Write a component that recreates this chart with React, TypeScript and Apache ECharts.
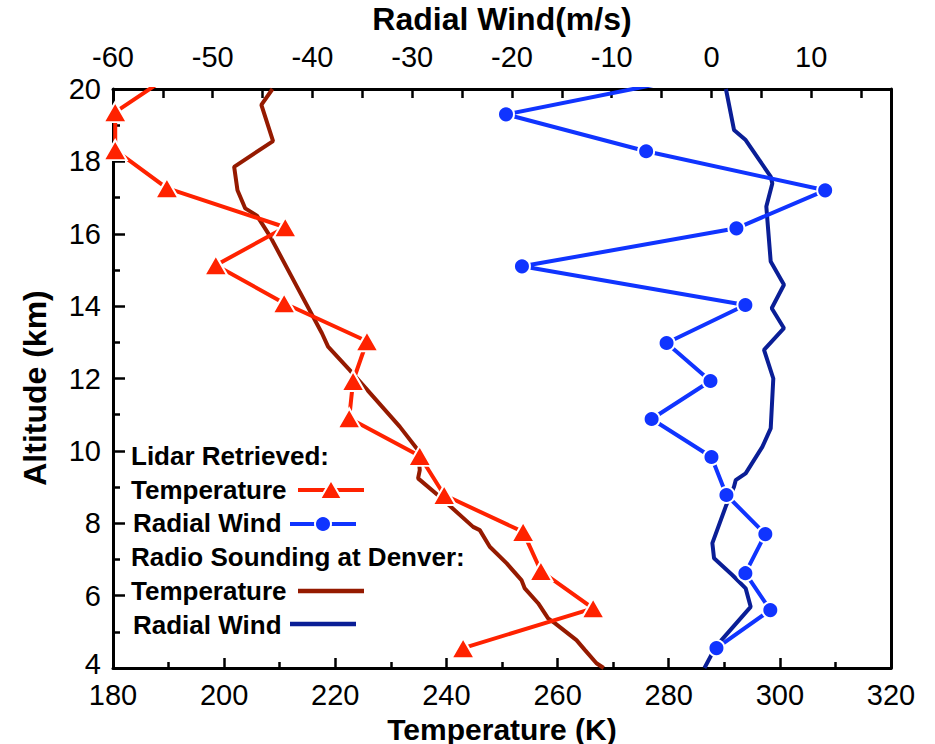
import React, { useEffect, useRef } from "react";
import * as echarts from "echarts";

// Lidar retrieved temperature (K) vs altitude (km)
const lidarTempK = [243, 266.4, 257, 253.8, 239.6, 235.2, 222.5, 223.2, 225.7, 210.8, 198.5, 211, 189.7, 180.4, 180.4, 190.5];
const lidarTempAlt = [4.55, 5.65, 6.68, 7.76, 8.78, 9.86, 10.9, 11.93, 13.03, 14.08, 15.13, 16.18, 17.26, 18.31, 19.36, 20.4];

// Lidar retrieved radial wind (m/s) vs altitude (km)
const lidarWind = [0.5, 5.9, 3.4, 5.4, 1.5, 0, -6, -0.1, -4.5, 3.4, -19, 2.5, 11.4, -6.55, -20.6, -1.5];
const lidarWindAlt = [4.55, 5.6, 6.62, 7.7, 8.78, 9.83, 10.88, 11.93, 12.98, 14.03, 15.1, 16.15, 17.2, 18.28, 19.3, 20.35];

// Radio sounding at Denver: temperature (K)
const sondeTempK = [268.3, 267.0, 264.9, 263.4, 259.5, 258.3, 256.5, 254.1, 253.5, 250.85, 247.8, 246.0, 244.8, 238.8, 234.9, 235.2, 234.9, 231.6, 222.6, 218.7, 217.6, 213.1, 208.3, 205.9, 203.8, 202.4, 201.8, 208.8, 206.7, 208.7];
const sondeTempAlt = [4.0, 4.13, 4.5, 4.77, 5.24, 5.37, 5.79, 6.2, 6.43, 6.89, 7.35, 7.81, 7.9, 8.73, 9.24, 9.47, 10.02, 10.67, 12.23, 12.88, 13.25, 14.54, 15.92, 16.5, 16.7, 17.2, 17.85, 18.56, 19.56, 20.0];

// Radio sounding at Denver: radial wind (m/s)
const sondeWind = [-0.7, 0.43, 3.93, 3.43, 2.09, 0.26, 0.09, 1.43, 2.26, 2.43, 3.43, 5.1, 5.94, 6.2, 5.27, 7.27, 6.04, 7.27, 5.94, 5.5, 6.1, 5.94, 4.79, 3.43, 2.26, 1.45];
const sondeWindAlt = [4.0, 4.59, 5.69, 6.2, 6.57, 7.03, 7.45, 8.46, 9.01, 9.19, 9.38, 10.11, 10.62, 12.0, 12.79, 13.39, 13.94, 14.59, 15.23, 16.75, 17.39, 17.58, 18.04, 18.59, 18.87, 20.0];

const tempTicks = { min: 180, max: 320, interval: 20 };
const windTicks = { min: -60, max: 18, interval: 5 };
const altTicks = { min: 4, max: 20, interval: 2 };

const FONT = '"Liberation Sans", Arial, sans-serif';
const C_LT = "#FF2200";
const C_LW = "#1034FF";
const C_ST = "#951A00";
const C_SW = "#0A1E96";

const zip = (xs: number[], ys: number[]) =>
  xs.map((x, i) => {
    const y = ys[i];
    if (y > altTicks.max || y < altTicks.min) return { value: [x, y], symbol: "none" };
    return [x, y];
  });

export default function App() {
  const ref = useRef<HTMLDivElement>(null);
  useEffect(() => {
    if (!ref.current) return;
    const chart = echarts.init(ref.current, undefined, { renderer: "svg" });
    const axisLine = { show: true, onZero: false, lineStyle: { color: "#000", width: 3 } };
    const tickStyle = { color: "#000", width: 2.5 };
    const legendTexts = [
      { t: "Lidar Retrieved:", x: 131, y: 456 },
      { t: "Temperature", x: 131, y: 490 },
      { t: "Radial Wind", x: 133, y: 523 },
      { t: "Radio Sounding at Denver:", x: 131, y: 557 },
      { t: "Temperature", x: 131, y: 591 },
      { t: "Radial Wind", x: 133, y: 625 },
    ];
    const graphic: any[] = legendTexts.map((l) => ({
      type: "text",
      x: l.x,
      y: l.y,
      z: 100,
      style: {
        text: l.t,
        fontFamily: FONT,
        fontWeight: "bold",
        fontSize: 26,
        fill: "#000",
        verticalAlign: "middle",
        align: "left",
      },
    }));
    graphic.push(
      { type: "line", z: 100, shape: { x1: 298, y1: 490, x2: 364, y2: 490 }, style: { stroke: C_LT, lineWidth: 4 } },
      { type: "polygon", z: 101, shape: { points: [[331, 480], [342, 499], [320, 499]] }, style: { fill: C_LT, stroke: "#fff", lineWidth: 2 } },
      { type: "line", z: 100, shape: { x1: 290, y1: 524, x2: 356, y2: 524 }, style: { stroke: C_LW, lineWidth: 4 } },
      { type: "circle", z: 101, shape: { cx: 323, cy: 524, r: 8 }, style: { fill: C_LW, stroke: "#fff", lineWidth: 2 } },
      { type: "line", z: 100, shape: { x1: 298, y1: 591, x2: 364, y2: 591 }, style: { stroke: C_ST, lineWidth: 4.5 } },
      { type: "line", z: 100, shape: { x1: 290, y1: 624, x2: 356, y2: 624 }, style: { stroke: C_SW, lineWidth: 4.5 } },
      {
        type: "text",
        x: 35,
        y: 388,
        rotation: Math.PI / 2,
        z: 100,
        style: {
          text: "Altitude (km)",
          fontFamily: FONT,
          fontWeight: "bold",
          fontSize: 32,
          fill: "#000",
          align: "center",
          verticalAlign: "middle",
        },
      }
    );

    chart.setOption({
      animation: false,
      backgroundColor: "#fff",
      textStyle: { fontFamily: FONT },
      grid: { left: 113, top: 89, width: 778, height: 579, containLabel: false, outerBoundsMode: "none" },
      xAxis: [
        {
          type: "value",
          position: "bottom",
          ...tempTicks,
          axisLine,
          axisTick: { show: true, inside: true, length: 10, lineStyle: tickStyle },
          minorTick: { show: true, splitNumber: 2, length: 6, lineStyle: tickStyle },
          splitLine: { show: false },
          axisLabel: { fontSize: 29, lineHeight: 22, color: "#000", fontFamily: FONT, margin: 16 },
          name: "Temperature (K)",
          nameLocation: "middle",
          nameGap: 40,
          nameTextStyle: { fontSize: 30, lineHeight: 30, fontWeight: "bold", color: "#000", fontFamily: FONT },
        },
        {
          type: "value",
          position: "top",
          ...windTicks,
          axisLine,
          axisTick: { show: true, inside: true, length: 9, lineStyle: tickStyle },
          splitLine: { show: false },
          axisLabel: {
            fontSize: 29,
            color: "#000",
            fontFamily: FONT,
            margin: 18,
            formatter: (v: number) => (v % 10 === 0 ? String(v) : ""),
          },
          name: "Radial Wind(m/s)",
          nameLocation: "middle",
          nameGap: 54,
          nameTextStyle: { fontSize: 32, fontWeight: "bold", color: "#000", fontFamily: FONT },
        },
      ],
      yAxis: [
        {
          type: "value",
          position: "left",
          ...altTicks,
          axisLine,
          axisTick: { show: true, inside: true, length: 12, lineStyle: tickStyle },
          minorTick: { show: true, splitNumber: 2, length: 7, lineStyle: tickStyle },
          splitLine: { show: false },
          axisLabel: {
            fontSize: 29,
            lineHeight: 22,
            color: "#000",
            fontFamily: FONT,
            margin: 12,
            formatter: (v: number) => (v === altTicks.min ? `{lo|${v}}` : String(v)),
            rich: {
              lo: { fontSize: 29, lineHeight: 22, fontFamily: FONT, color: "#000", padding: [0, 0, 8, 0] },
            },
          },
        },
        {
          type: "value",
          position: "right",
          ...altTicks,
          axisLine,
          axisTick: { show: false },
          axisLabel: { show: false },
          splitLine: { show: false },
        },
      ],
      series: [
        {
          type: "line",
          name: "Radio Sounding Temperature",
          xAxisIndex: 0,
          yAxisIndex: 0,
          data: zip(sondeTempK, sondeTempAlt),
          symbol: "none",
          lineStyle: { color: C_ST, width: 4 },
          clip: true,
          z: 2,
        },
        {
          type: "line",
          name: "Radio Sounding Radial Wind",
          xAxisIndex: 1,
          yAxisIndex: 0,
          data: zip(sondeWind, sondeWindAlt),
          symbol: "none",
          lineStyle: { color: C_SW, width: 4 },
          clip: true,
          z: 2,
        },
        {
          type: "line",
          name: "Lidar Temperature",
          xAxisIndex: 0,
          yAxisIndex: 0,
          data: zip(lidarTempK, lidarTempAlt),
          symbol: "triangle",
          symbolSize: [23, 20],
          lineStyle: { color: C_LT, width: 4 },
          itemStyle: { color: C_LT, borderColor: "#fff", borderWidth: 2 },
          clip: true,
          z: 3,
        },
        {
          type: "line",
          name: "Lidar Radial Wind",
          xAxisIndex: 1,
          yAxisIndex: 0,
          data: zip(lidarWind, lidarWindAlt),
          symbol: "circle",
          symbolSize: 16,
          lineStyle: { color: C_LW, width: 4 },
          itemStyle: { color: C_LW, borderColor: "#fff", borderWidth: 2 },
          clip: true,
          z: 3,
        },
      ],
      graphic,
    });
    return () => chart.dispose();
  }, []);

  return (
    <div
      ref={ref}
      style={{ position: "fixed", left: 0, top: 0, width: 935, height: 744, background: "#fff" }}
    />
  );
}
